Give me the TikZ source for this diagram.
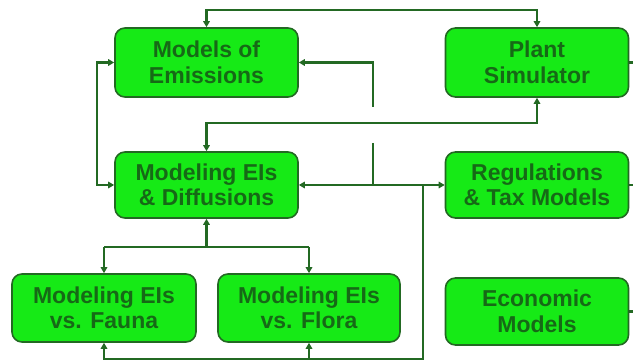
\documentclass[tikz,border=0pt]{standalone}
\usepackage{fontspec}
\setmainfont{Liberation Sans}
\usepackage{xcolor}
\usetikzlibrary{arrows.meta, positioning}

\definecolor{boxgreen}{RGB}{22,234,22}
\definecolor{edgegreen}{RGB}{35,105,35}
\definecolor{textgreen}{RGB}{22,105,22}

\begin{document}
\begin{tikzpicture}[
    x=1pt, y=-1pt,
    box/.style={rectangle, rounded corners=10pt, draw=edgegreen, line width=1.6pt, fill=boxgreen,
        minimum width=183pt, minimum height=68pt, inner sep=0pt, align=center,
        text=textgreen, font=\fontsize{23}{25.5}\selectfont\bfseries},
    link/.style={draw=edgegreen, line width=2.2pt, >={Triangle[length=6pt,width=6.5pt]}}
]
\useasboundingbox (0,0) rectangle (633,363);

% Boxes
\node[box, minimum height=69pt] (emis) at (206.5,62.5) {Models of\\Emissions};
\node[box, minimum height=69pt] (plant) at (537,62.5) {Plant\\Simulator};
\node[box, minimum height=66pt] (diff) at (206.5,185) {Modeling EIs\\\& Diffusions};
\node[box, minimum height=66pt] (regs) at (537,185) {Regulations\\\& Tax Models};
\node[box, minimum width=184pt] (fauna) at (104,308) {Modeling EIs\\vs. Fauna};
\node[box, minimum width=182pt] (flora) at (309,308) {Modeling EIs\\vs. Flora};
\node[box, minimum height=67pt] (econ) at (537,311.5) {Economic\\Models};

% Helper points
\coordinate (top) at (0,10);
\coordinate (left) at (97,0);
\coordinate (mid) at (0,123);
\coordinate (fb) at (373,107);
\coordinate (stub) at (373,143);
\coordinate (drop) at (423,185);
\coordinate (bus) at (0,359);
\coordinate (split) at (0,247);

% Connectors
\draw[link, <->] (emis.north) -- (emis.north |- top) -| (plant.north);
\draw[link, <->] (emis.west) -- (emis.west -| left) |- (diff.west);
\draw[link, <->] (diff.north) -- (diff.north |- mid) -| (plant.south);
\draw[link, ->] (fb) |- (emis.east);
\draw[link, <->] (diff.east) -- (regs.west);
\draw[link] (stub) -- (stub |- diff.east);
\draw[link, ->] (drop) |- (fauna.south |- bus) -- (fauna.south);
\draw[link, ->] (flora.south |- bus) -- (flora.south);
\draw[link] (fauna.north |- split) -- (flora.north |- split);
\draw[link, ->] (fauna.north |- split) -- (fauna.north);
\draw[link, ->] (flora.north |- split) -- (flora.north);
\draw[link, ->] (diff.south |- split) -- (diff.south);

% Off-page links
\draw[link] (plant.east) -- ++(6,0);
\draw[link] (regs.east) -- ++(6,0);
\draw[link] (econ.east) -- ++(6,0);
\end{tikzpicture}
\end{document}
